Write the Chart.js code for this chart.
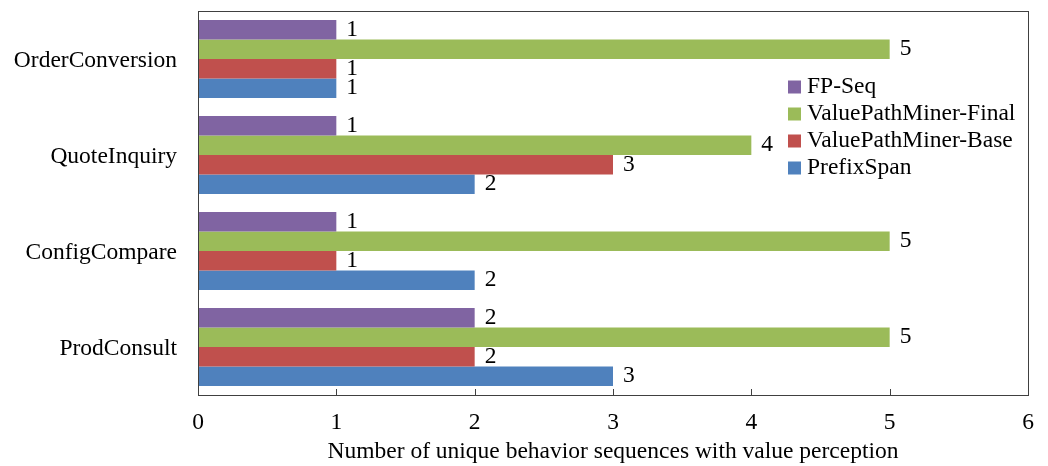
<!DOCTYPE html>
<html>
<head>
<meta charset="utf-8">
<script src="https://cdn.jsdelivr.net/npm/chart.js@4.4.1/dist/chart.umd.min.js"></script>
<style>
  html, body { margin: 0; padding: 0; background: #ffffff; }
  #wrap { width: 1048px; height: 466px; }
</style>
</head>
<body>
<div id="wrap"><canvas id="chart" width="1048" height="466"></canvas></div>
<script>
// Scenario categories, listed top to bottom
const categories = ['OrderConversion', 'QuoteInquiry', 'ConfigCompare', 'ProdConsult'];

// Count of unique value-perceiving behavior sequences per method
const fpSeq      = [1, 1, 1, 2];
const vpmFinal   = [5, 4, 5, 5];
const vpmBase    = [1, 3, 1, 2];
const prefixSpan = [1, 2, 2, 3];

const seriesNames = ['FP-Seq', 'ValuePathMiner-Final', 'ValuePathMiner-Base', 'PrefixSpan'];
const xTicks = [0, 1, 2, 3, 4, 5, 6];

const FONT = '"Liberation Serif", "Times New Roman", serif';
const FS = 23.5;
const colors = ['#8064A2', '#9BBB59', '#C0504D', '#4F81BD'];

// Frame around the plot, inward tick marks on the value axis, value labels and legend
const decorations = {
  id: 'decorations',
  afterDatasetsDraw(chart) {
    const ctx = chart.ctx;
    const a = chart.chartArea;
    const xs = chart.scales.x;
    ctx.save();
    ctx.strokeStyle = '#404040';
    ctx.lineWidth = 1;
    ctx.strokeRect(Math.round(a.left) + 0.5, Math.round(a.top) + 0.5,
                   Math.round(a.right - a.left), Math.round(a.bottom - a.top));
    // tick marks pointing up into the plot
    xs.ticks.forEach(t => {
      const px = Math.round(xs.getPixelForValue(t.value)) + 0.5;
      ctx.beginPath();
      ctx.moveTo(px, a.bottom);
      ctx.lineTo(px, a.bottom - 6);
      ctx.stroke();
    });
    // value labels at the bar ends
    ctx.fillStyle = '#000000';
    ctx.font = FS + 'px ' + FONT;
    ctx.textAlign = 'left';
    ctx.textBaseline = 'middle';
    chart.data.datasets.forEach((ds, i) => {
      const meta = chart.getDatasetMeta(i);
      meta.data.forEach((bar, j) => {
        ctx.fillText(String(ds.data[j]), bar.x + 10, bar.y);
      });
    });
    // legend inside the plot area
    const lx = 788, ly0 = 87, step = 27, box = 13;
    chart.data.datasets.forEach((ds, i) => {
      const cy = ly0 + i * step;
      ctx.fillStyle = ds.backgroundColor;
      ctx.fillRect(lx, cy - box / 2, box, box);
      ctx.fillStyle = '#000000';
      ctx.fillText(ds.label, lx + 19, cy);
    });
    ctx.restore();
  }
};

new Chart(document.getElementById('chart'), {
  type: 'bar',
  data: {
    labels: categories,
    datasets: [
      { label: seriesNames[0], data: fpSeq,      backgroundColor: colors[0] },
      { label: seriesNames[1], data: vpmFinal,   backgroundColor: colors[1] },
      { label: seriesNames[2], data: vpmBase,    backgroundColor: colors[2] },
      { label: seriesNames[3], data: prefixSpan, backgroundColor: colors[3] }
    ]
  },
  options: {
    indexAxis: 'y',
    responsive: false,
    animation: false,
    layout: { padding: { top: 11, right: 20, bottom: 0, left: 0 } },
    datasets: { bar: { categoryPercentage: 0.81, barPercentage: 1.0 } },
    plugins: {
      legend: { display: false },
      tooltip: { enabled: false }
    },
    scales: {
      x: {
        min: 0,
        max: 6,
        afterBuildTicks(scale) { scale.ticks = xTicks.map(v => ({ value: v })); },
        grid: { display: false, drawTicks: false },
        border: { display: false },
        ticks: { color: '#000000', font: { family: FONT, size: FS }, padding: 14 },
        title: {
          display: true,
          text: 'Number of unique behavior sequences with value perception',
          color: '#000000',
          font: { family: FONT, size: FS },
          padding: { top: 0, bottom: 0 }
        },
        afterFit(scale) {
          scale.height = 71;
          scale.paddingLeft = 0;
          scale.paddingRight = 0;
        }
      },
      y: {
        grid: { display: false, drawTicks: false },
        border: { display: false },
        ticks: { color: '#000000', font: { family: FONT, size: FS }, padding: 21, labelOffset: 2 },
        afterFit(scale) {
          scale.width = 198;
          scale.paddingTop = 0;
          scale.paddingBottom = 0;
        }
      }
    }
  },
  plugins: [decorations]
});
</script>
</body>
</html>
